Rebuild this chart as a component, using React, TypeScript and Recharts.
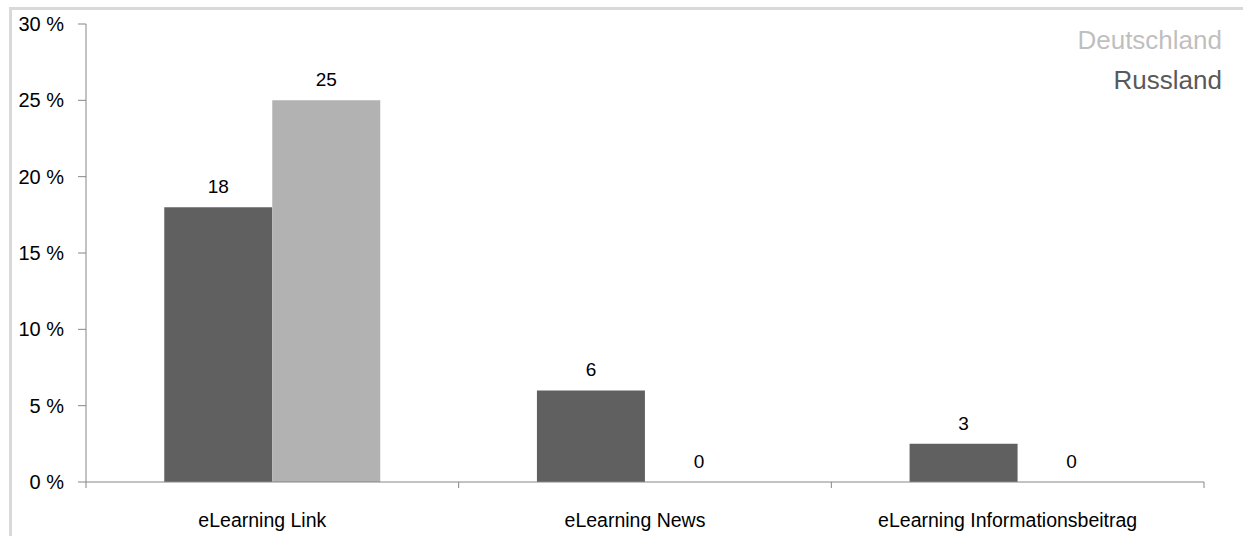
import { BarChart, Bar, XAxis, YAxis, LabelList } from "recharts";

const categories = ["eLearning Link", "eLearning News", "eLearning Informationsbeitrag"];
const russland = [18, 6, 2.5];
const deutschland = [25, 0, 0];
const yTicks = [0, 5, 10, 15, 20, 25, 30];
const seriesNames = ["Deutschland", "Russland"];

const data = categories.map((name, i) => ({
  name,
  russland: russland[i],
  deutschland: deutschland[i],
}));

const WIDTH = 1243;
const HEIGHT = 536;
const Y_AXIS_W = 86;
const RIGHT = 39;
const TOP = 24;
const X_AXIS_H = 54;
const PLOT_W = WIDTH - Y_AXIS_W - RIGHT;
const PLOT_BOTTOM = HEIGHT - X_AXIS_H;
const FONT = '"Liberation Sans", Arial, sans-serif';

function CategoryTick(props: any) {
  const { x, index, payload } = props;
  const band = PLOT_W / categories.length;
  const last = index === categories.length - 1;
  return (
    <g>
      <line x1={x - band / 2} x2={x - band / 2} y1={PLOT_BOTTOM} y2={PLOT_BOTTOM + 6} stroke="#868686" />
      {last && <line x1={x + band / 2} x2={x + band / 2} y1={PLOT_BOTTOM} y2={PLOT_BOTTOM + 6} stroke="#868686" />}
      <text x={x - 10} y={PLOT_BOTTOM + 45} textAnchor="middle" fontSize={19.5} fill="#000" fontFamily={FONT}>
        {payload.value}
      </text>
    </g>
  );
}

// draws the value above each bar, zero bars included
function ValueLabel(props: any) {
  const { x, y, width, value } = props;
  if (value === undefined || value === null) return null;
  return (
    <text
      x={Number(x) + Number(width) / 2}
      y={Number(y) - 14}
      textAnchor="middle"
      fontSize={19}
      fill="#000"
      fontFamily={FONT}
    >
      {Math.round(Number(value))}
    </text>
  );
}

export default function App() {
  return (
    <div
      style={{
        position: "fixed",
        left: 0,
        top: 0,
        width: WIDTH,
        height: HEIGHT,
        overflow: "hidden",
        background: "#fff",
      }}
    >
      <div
        style={{
          position: "absolute",
          left: 9,
          top: 7,
          width: 1400,
          height: 800,
          border: "3px solid #d9d9d9",
        }}
      />
      <div style={{ position: "absolute", left: 0, top: 0 }}>
        <BarChart
          width={WIDTH}
          height={HEIGHT}
          data={data}
          margin={{ top: TOP, right: RIGHT, bottom: 0, left: 0 }}
          barCategoryGap="21%"
          barGap={0}
        >
          <YAxis
            width={Y_AXIS_W}
            domain={[0, 30]}
            ticks={yTicks}
            interval={0}
            tickFormatter={(v: number) => `${v} %`}
            stroke="#868686"
            tickSize={8}
            tickMargin={14}
            tick={{ fill: "#000", fontSize: 20, fontFamily: FONT }}
          />
          <XAxis
            dataKey="name"
            height={X_AXIS_H}
            stroke="#868686"
            tickLine={false}
            interval={0}
            tick={<CategoryTick />}
          />
          <Bar dataKey="russland" name="Russland" fill="#606060" minPointSize={0.01} isAnimationActive={false}>
            <LabelList dataKey="russland" content={<ValueLabel />} />
          </Bar>
          <Bar dataKey="deutschland" name="Deutschland" fill="#b2b2b2" minPointSize={0.01} isAnimationActive={false}>
            <LabelList dataKey="deutschland" content={<ValueLabel />} />
          </Bar>
        </BarChart>
      </div>
      <div
        style={{
          position: "absolute",
          top: 20,
          right: 21,
          textAlign: "right",
          fontFamily: FONT,
          fontSize: 26,
          lineHeight: "40px",
        }}
      >
        <div style={{ color: "#bfbfbf" }}>{seriesNames[0]}</div>
        <div style={{ color: "#595959" }}>{seriesNames[1]}</div>
      </div>
    </div>
  );
}
